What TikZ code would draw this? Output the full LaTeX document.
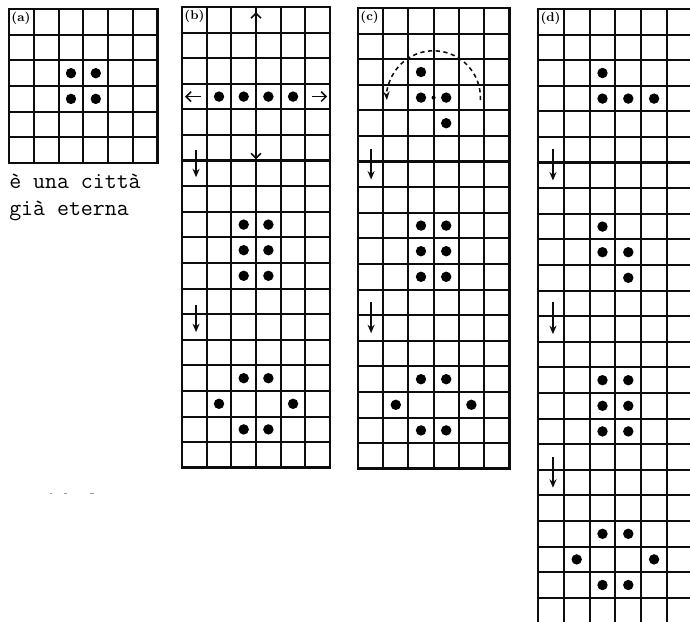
\documentclass[tikz,border=0pt]{standalone}
\usepackage{fontspec}
\usetikzlibrary{arrows.meta}
\definecolor{gridink}{gray}{0.05}
\definecolor{smudge}{gray}{0.62}

\begin{document}
\begin{tikzpicture}[gridline/.style={gridink,line width=1.35pt},
  frame/.style={gridink,line width=2pt},
  segline/.style={gridink,line width=1.6pt},
  flow/.style={gridink,line width=1.2pt,-{Stealth[length=6pt,width=5pt]}},
  spread/.style={gridink,line width=1.1pt,-{Straight Barb[length=3.5pt,width=7pt]}},
  turn/.style={gridink,line width=1.1pt,dash pattern=on 3pt off 2.5pt,-{Stealth[length=6pt,width=4.5pt]}},
  tag/.style={anchor=north west,inner sep=0.5pt,font=\small\bfseries},
  caption/.style={anchor=base west,inner sep=0pt,font=\ttfamily\fontsize{16.5}{19}\selectfont}]
  \useasboundingbox (0,0) rectangle (17.25,-15.55);
  \clip (0,0) rectangle (17.25,-15.55);

  % (a)
  \begin{scope}[shift={(0.225cm,-0.225cm)},x=0.62cm,y=-0.642cm]
    \foreach \i in {1,...,5} \draw[gridline] (\i,0) -- (\i,6);
    \foreach \j in {1,...,5} \draw[gridline] (0,\j) -- (6,\j);
    \draw[frame] (0,0) rectangle (6,6);
    \node[tag] (labA) at (0.06,0.08) {(a)};
    \foreach \cc/\rr in {2/2,3/2,2/3,3/3}
      \fill (\cc+.5,\rr+.5) circle[radius=.13cm];
  \end{scope}
  \node[caption] (capA) at (0.225,-4.7) {è una città};
  \node[caption] (capB) at (0.225,-5.375) {già eterna};
  \draw[smudge,line width=0.8pt] (1.25,-12.33) -- (1.3,-12.33) (1.6,-12.33) -- (1.68,-12.33)
    (2.24,-12.33) -- (2.36,-12.33);

  % (b)
  \begin{scope}[shift={(4.55cm,-0.175cm)},x=0.617cm,y=-0.64cm]
    \foreach \i in {1,...,5} \draw[gridline] (\i,0) -- (\i,18);
    \foreach \j in {1,...,17} \draw[gridline] (0,\j) -- (6,\j);
    \draw[segline] (0,6) -- (6,6) (0,12) -- (6,12);
    \draw[frame] (0,0) rectangle (6,18);
    \node[tag] (labB) at (0.06,0.08) {(b)};
    \draw[spread] (3,0.9) -- (3,0.2);
    \draw[spread] (3,5.1) -- (3,5.95);
    \draw[spread] (0.75,3.5) -- (0.12,3.5);
    \draw[spread] (5.25,3.5) -- (5.88,3.5);
    \draw[flow] (0.57,5.6) -- (0.57,6.65);
    \draw[flow] (0.57,11.65) -- (0.57,12.7);
    \foreach \cc/\rr in {1/3,2/3,3/3,4/3, 2/8,3/8,2/9,3/9,2/10,3/10,
      2/14,3/14,1/15,4/15,2/16,3/16}
      \fill (\cc+.5,\rr+.5) circle[radius=.13cm];
  \end{scope}

  % (c)
  \begin{scope}[shift={(8.95cm,-0.2cm)},x=0.63cm,y=-0.64cm]
    \foreach \i in {1,...,5} \draw[gridline] (\i,0) -- (\i,18);
    \foreach \j in {1,...,17} \draw[gridline] (0,\j) -- (6,\j);
    \draw[segline] (0,6) -- (6,6) (0,12) -- (6,12);
    \draw[frame] (0,0) rectangle (6,18);
    \node[tag] (labC) at (0.06,0.08) {(c)};
    \coordinate (pivot) at (3,3.5);
    \draw[flow] (0.52,5.5) -- (0.52,6.7);
    \draw[flow] (0.52,11.5) -- (0.52,12.7);
    \foreach \cc/\rr in {2/2,2/3,3/3,3/4, 2/8,3/8,2/9,3/9,2/10,3/10,
      2/14,3/14,1/15,4/15,2/16,3/16}
      \fill (\cc+.5,\rr+.5) circle[radius=.13cm];
  \end{scope}
  \fill (pivot) circle[radius=0.05cm];
  \draw[turn] (pivot) ++(-3:1.17) arc[start angle=-3,end angle=183,radius=1.17];

  % (d)
  \begin{scope}[shift={(13.45cm,-0.225cm)},x=0.645cm,y=-0.64cm]
    \foreach \i in {1,...,5} \draw[gridline] (\i,0) -- (\i,24);
    \foreach \j in {1,...,23} \draw[gridline] (0,\j) -- (6,\j);
    \draw[segline] (0,6) -- (6,6) (0,12) -- (6,12) (0,18) -- (6,18);
    \draw[frame] (0,0) rectangle (6,24);
    \node[tag] (labD) at (0.06,0.08) {(d)};
    \draw[flow] (0.58,5.45) -- (0.58,6.7);
    \draw[flow] (0.58,11.45) -- (0.58,12.7);
    \draw[flow] (0.58,17.5) -- (0.58,18.7);
    \foreach \cc/\rr in {2/2,2/3,3/3,4/3, 2/8,2/9,3/9,3/10,
      2/14,3/14,2/15,3/15,2/16,3/16, 2/20,3/20,1/21,4/21,2/22,3/22}
      \fill (\cc+.5,\rr+.5) circle[radius=.13cm];
  \end{scope}
\end{tikzpicture}
\end{document}
